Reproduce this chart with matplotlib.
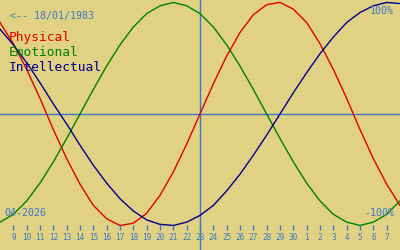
import matplotlib
matplotlib.use("Agg")
import matplotlib.pyplot as plt

# ===== Data =====
BIRTH_LABEL = "<-- 18/01/1983"
MONTH_LABEL = "04-2026"
TODAY_INDEX = 15  # 23rd, the marker line

# day labels for ticks 1..29 (day index 0 is the 8th)
day_labels = [str(d) for d in range(9, 31)] + [str(d) for d in range(1, 8)]

# daily values in %, day index 0..30
physical = [82, 63, 40, 14, -14, -40, -63, -82, -94, -100, -98, -89, -73, -52, -27, 0,
            27, 52, 73, 89, 98, 100, 94, 82, 63, 40, 14, -14, -40, -63, -82]
emotional = [-97, -90, -78, -62, -43, -22, 0, 22, 43, 62, 78, 90, 97, 100, 97, 90,
             78, 62, 43, 22, 0, -22, -43, -62, -78, -90, -97, -100, -97, -90, -78]
intellectual = [76, 62, 46, 28, 9, -9, -28, -46, -62, -76, -87, -95, -99, -100, -97, -91,
                -82, -69, -54, -37, -19, 0, 19, 37, 54, 69, 82, 91, 97, 100, 99]

series_names = ["Physical", "Emotional", "Intellectual"]

# ===== Style =====
BG = "#e0d282"
RED = "#e00000"
GREEN = "#008000"
NAVY = "#000090"
BLUE = "#3a78c8"
MONO = "DejaVu Sans Mono"

fig = plt.figure(figsize=(4, 2.5), dpi=100, facecolor=BG)
ax = fig.add_axes([0, 0, 1, 1])
ax.set_facecolor(BG)
ax.set_xlim(0, 30)
ax.set_ylim(-122, 102.2)
ax.axis("off")

days = list(range(len(physical)))

# axes lines
ax.axhline(0, color=BLUE, lw=1)
ax.axvline(TODAY_INDEX, color=BLUE, lw=1)

for vals, col in zip([physical, emotional, intellectual], [RED, GREEN, NAVY]):
    ax.plot(days, vals, color=col, lw=1)

# day ticks along the bottom
tick_pos = list(range(1, len(day_labels) + 1))
ax.vlines(tick_pos, -100, -104.5, color=BLUE, lw=1)
for x, lab in zip(tick_pos, day_labels):
    ax.text(x, -111, lab, color=BLUE, fontsize=5.6, family=MONO,
            ha="center", va="center")

# labels
ax.text(0.025, 0.935, BIRTH_LABEL, transform=ax.transAxes, color=BLUE,
        fontsize=7.2, family=MONO, ha="left", va="center")
for i, (name, col) in enumerate(zip(series_names, [RED, GREEN, NAVY])):
    ax.text(0.022, 0.85 - i * 0.06, name, transform=ax.transAxes, color=col,
            fontsize=9.3, family=MONO, ha="left", va="center")
ax.text(0.985, 0.955, "100%", transform=ax.transAxes, color=BLUE,
        fontsize=7.2, family=MONO, ha="right", va="center")
ax.text(0.985, 0.15, "-100%", transform=ax.transAxes, color=BLUE,
        fontsize=7.2, family=MONO, ha="right", va="center")
ax.text(0.01, 0.15, MONTH_LABEL, transform=ax.transAxes, color=BLUE,
        fontsize=7.2, family=MONO, ha="left", va="center")

fig.savefig("out.png", dpi=100, facecolor=BG)
